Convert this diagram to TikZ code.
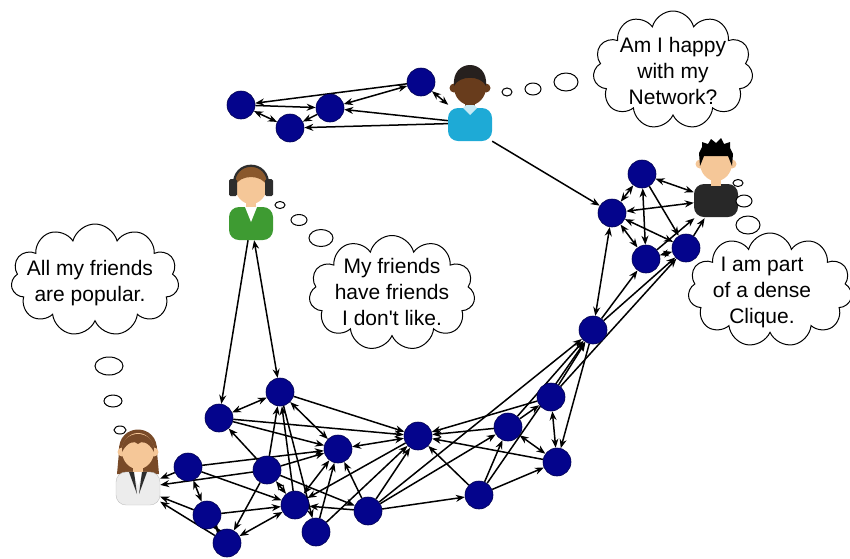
\documentclass[tikz,border=0pt]{standalone}
\usepackage{fontspec}
\setmainfont{Liberation Sans}[Ligatures=TeXOff]
\usetikzlibrary{arrows.meta,shapes.symbols,backgrounds}

\definecolor{navy}{RGB}{4,4,140}
\definecolor{navyline}{RGB}{0,0,80}
\definecolor{skinA}{RGB}{245,199,152}
\definecolor{skinB}{RGB}{104,60,28}
\definecolor{shirtB}{RGB}{30,170,214}
\definecolor{shirtC}{RGB}{62,155,50}
\definecolor{shirtD}{RGB}{40,40,40}
\definecolor{coat}{RGB}{236,236,236}
\definecolor{hairB}{RGB}{38,32,30}
\definecolor{hairC}{RGB}{138,88,44}
\definecolor{hairD}{RGB}{120,74,40}
\definecolor{phone}{RGB}{45,45,45}

\begin{document}
\begin{tikzpicture}[x=1pt,y=-1pt,
  vtx/.style={circle,fill=navy,draw=navyline,line width=0.6pt,minimum size=28pt,inner sep=0pt},
  body/.style={rectangle,minimum width=44pt,minimum height=36pt,inner sep=0pt},
  link/.style={line width=1.5pt,-{Stealth[length=9pt,width=7pt]}},
  mutual/.style={line width=1.5pt,{Stealth[length=9pt,width=7pt]}-{Stealth[length=9pt,width=7pt]}},
  thought/.style={cloud,cloud puffs=11,cloud ignores aspect,draw,line width=1pt,fill=white,inner sep=0pt},
  saying/.style={align=center,inner sep=0pt,font=\fontsize{21}{26}\selectfont},
  bubble/.style={draw,line width=1pt,fill=white},
  skin/.style={fill=skinA},
  shirt/.style={fill=shirtD},
  person/.pic={
    \fill[shirt,rounded corners=10pt] (-22,35) -- (-22,2) -- (22,2) -- (22,35) -- cycle;
    \fill[skin] (-5,-6) rectangle (5,4);
    \fill[skin] (-16,-18) circle (4.5);
    \fill[skin] (16,-18) circle (4.5);
    \fill[skin] (0,-19) ellipse (16 and 18);
  }]
\useasboundingbox (0,0) rectangle (850,558);

% top group
\node[vtx] (t1) at (241,105) {};
\node[vtx] (t2) at (290,128) {};
\node[vtx] (t3) at (330,108) {};
\node[vtx] (t4) at (421,82) {};

% clique
\node[vtx] (c1) at (642,174) {};
\node[vtx] (c2) at (612,213) {};
\node[vtx] (c3) at (646,259) {};
\node[vtx] (c4) at (686,248) {};
\node[vtx] (c5) at (593,330) {};

% middle
\node[vtx] (m1) at (551,397) {};
\node[vtx] (m2) at (508,427) {};
\node[vtx] (m3) at (557,462) {};
\node[vtx] (m4) at (479,495) {};
\node[vtx] (m5) at (418,436) {};
\node[vtx] (m6) at (368,511) {};
\node[vtx] (m7) at (338,449) {};

% lower left
\node[vtx] (l1) at (280,392) {};
\node[vtx] (l2) at (219,418) {};
\node[vtx] (l3) at (188,467) {};
\node[vtx] (l4) at (267,470) {};
\node[vtx] (l5) at (295,505) {};
\node[vtx] (l6) at (207,515) {};
\node[vtx] (l7) at (227,543) {};
\node[vtx] (l8) at (316,532) {};

% people
\node[body] (p1) at (470,123) {};
\node[body] (p2) at (716,200) {};
\node[body] (p3) at (251,222) {};
\node[body,minimum height=38pt] (p4) at (138,488) {};

\pic[skin/.style={fill=skinB},shirt/.style={fill=shirtB}] at (470,106) {person};
\fill[white!75!shirtB] (463,108) -- (470,115) -- (477,108) -- (474,105) -- (466,105) -- cycle;
\fill[hairB] (454,86) .. controls (451,58) and (489,58) .. (486,86) .. controls (481,75) and (459,75) .. cycle;

\pic at (716,182) {person};
\fill[black] (700,166) -- (699,153) -- (702,147) -- (702,142) -- (708,144) -- (711,139) -- (716,143)
  -- (721,138) -- (724,144) -- (730,142) -- (730,148) -- (733,154) -- (732,166) -- (728,156) -- (704,156) -- cycle;

\pic[shirt/.style={fill=shirtC}] at (251,205) {person};
\fill[white] (245,207) -- (251,222) -- (257,207) -- cycle;
\fill[hairC] (235,186) .. controls (232,158) and (270,158) .. (267,186) .. controls (262,174) and (240,174) .. cycle;
\draw[phone,line width=2.2pt] (234,186) .. controls (232,159) and (270,159) .. (268,186);
\fill[phone,rounded corners=1.5pt] (229,179) rectangle (237,196);
\fill[phone,rounded corners=1.5pt] (265,179) rectangle (273,196);

\fill[hairD] (119,452) .. controls (117,422) and (159,422) .. (157,452) -- (159,474) -- (117,474) -- cycle;
\pic[shirt/.style={fill=coat,draw=black!25}] at (138,470) {person};
\fill[white] (133,472) -- (138,486) -- (143,472) -- cycle;
\fill[phone] (129,472) -- (137,494) -- (134,472) -- cycle;
\fill[phone] (147,472) -- (139,494) -- (142,472) -- cycle;
\fill[hairD] (122,452) .. controls (120,428) and (156,428) .. (154,452) .. controls (149,442) and (141,440) .. (138,444)
  .. controls (135,440) and (127,442) .. cycle;

\begin{pgfonlayer}{background}
\draw[link] (t4) -- (t1);
\draw[link] (t1) -- (t3);
\draw[mutual] (t1) -- (t2);
\draw[link] (t3) -- (t2);
\draw[mutual] (t3) -- (t4);
\draw[link] (p1) -- (t3);
\draw[link] (p1) -- (t2);
\draw[mutual] (t4) -- (p1);
\draw[link] (p1.south east) -- (c2);

\draw[mutual] (c1) -- (c2);
\draw[mutual] (c1) -- (c3);
\draw[mutual] (c1) -- (p2);
\draw[mutual] (c2) -- (p2);
\draw[mutual] (c2) -- (c3);
\draw[mutual] (c2) -- (c4);
\draw[link] (c1) -- (c4);
\draw[link] (c3) -- (p2);
\draw[link] (c4) -- (p2);
\draw[mutual] (c3) -- (c4);
\draw[mutual] (c5) -- (c2);
\draw[link] (c5) -- (c3);
\draw[link] (c5) -- (c4);
\draw[link] (m1) -- (c4);

\draw[link] (m1) -- (c5);
\draw[link] (m2) -- (c5);
\draw[link] (m4) -- (c5);
\draw[link] (m6) -- (c5);
\draw[link] (c5) -- (m3);
\draw[mutual] (m1) -- (m3);
\draw[mutual] (m2) -- (m3);
\draw[link] (m2) -- (m1);
\draw[link] (m2) -- (m5);
\draw[link] (m1) -- (m5);
\draw[link] (m3) -- (m5);
\draw[link] (m4) -- (m5);
\draw[link] (m4) -- (m2);
\draw[link] (m4) -- (m3);
\draw[link] (m6) -- (m4);
\draw[link] (m6) -- (m2);
\draw[link] (m6) -- (m5);
\draw[mutual] (m7) -- (m5);
\draw[link] (m6) -- (m7);

\draw[link] (p3) -- (l2);
\draw[mutual] (l1) -- (p3);
\draw[mutual] (l2) -- (l1);
\draw[link] (l4) -- (l2);
\draw[link] (l2) -- (m7);
\draw[link] (l2) -- (m5);
\draw[link] (l1) -- (m5);
\draw[mutual] (l1) -- (m7);
\draw[link] (l4) -- (l1);
\draw[link] (l5) -- (l1);
\draw[link] (l1) -- (l8);
\draw[link] (l3) -- (p4);
\draw[link] (l4) -- (p4);
\draw[link] (l6) -- (p4);
\draw[link] (l7) -- (p4);
\draw[mutual] (l3) -- (l6);
\draw[mutual] (l6) -- (l7);
\draw[link] (l6) -- (l5);
\draw[link] (l4) -- (l7);
\draw[mutual] (l7) -- (l5);
\draw[link] (l3) -- (l5);
\draw[mutual] (l4) -- (l5);
\draw[link] (l3) -- (m7);
\draw[link] (l4) -- (m7);
\draw[mutual] (l5) -- (m7);
\draw[link] (l8) -- (m7);
\draw[link] (l4) -- (m6);
\draw[link] (m6) -- (l5);
\draw[link] (m5) -- (l5);
\draw[link] (l8) -- (m5);
\end{pgfonlayer}

% thoughts
\draw[bubble] (507,92) ellipse (5 and 4);
\draw[bubble] (533,89) ellipse (8 and 6);
\draw[bubble] (566,82) ellipse (12 and 9);
\draw[bubble] (738,183) ellipse (5 and 3.5);
\draw[bubble] (744,201) ellipse (8 and 6);
\draw[bubble] (748,225) ellipse (12 and 9);
\draw[bubble] (280,205) ellipse (5 and 3.5);
\draw[bubble] (299,220) ellipse (8 and 5.5);
\draw[bubble] (321,238) ellipse (12 and 8.5);
\draw[bubble] (109,366) ellipse (14 and 9);
\draw[bubble] (113,401) ellipse (9 and 6);
\draw[bubble] (120,430) ellipse (6 and 4);

\node[thought,minimum width=160pt,minimum height=118pt] (happy) at (673,70) {};
\node[saying] at (673,71) {Am I happy\\with my\\Network?};
\node[thought,minimum width=164pt,minimum height=114pt] (dense) at (770,290) {};
\node[saying] at (762,292) {I am part\\of a dense\\Clique.};
\node[thought,minimum width=168pt,minimum height=112pt] (popular) at (95,280) {};
\node[saying] at (90,283) {All my friends\\are popular.};
\node[thought,minimum width=166pt,minimum height=115pt] (dislike) at (392,293) {};
\node[saying] at (392,292) {My friends\\have friends\\I don't like.};
\end{tikzpicture}
\end{document}
